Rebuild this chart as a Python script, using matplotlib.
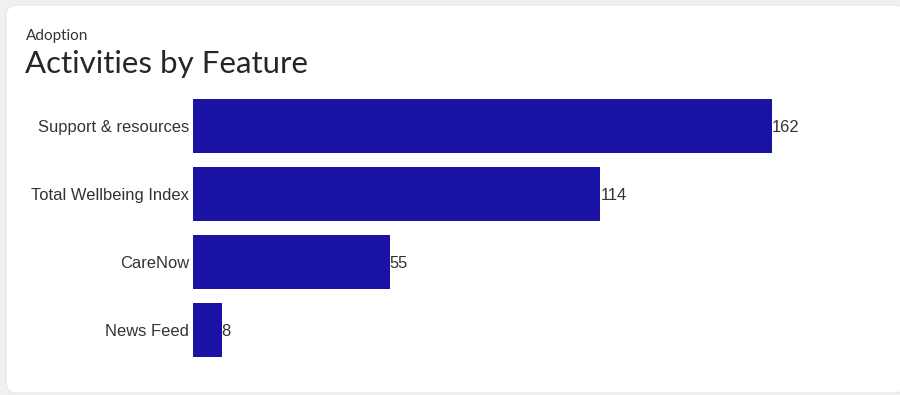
import matplotlib.pyplot as plt
from matplotlib.patches import FancyBboxPatch

features = ["Support & resources", "Total Wellbeing Index", "CareNow", "News Feed"]
activities = [162, 114, 55, 8]

W, H = 900, 395
fig = plt.figure(figsize=(9, 3.95), dpi=100)
fig.patch.set_facecolor("#f0f0f0")

# white card behind everything
card = FancyBboxPatch((6 / W, 2 / H), 900 / W, 388 / H,
                      boxstyle="round,pad=0,rounding_size=0.012",
                      transform=fig.transFigure, facecolor="white",
                      edgecolor="#e6e6e6", linewidth=0.8, mutation_aspect=W / H,
                      zorder=-10)
fig.patches.append(card)

fig.text(26 / W, 1 - 40 / H, "Adoption", fontsize=11, family="Lato", color="#333333")
fig.text(25 / W, 1 - 73 / H, "Activities by Feature", fontsize=22.5, family="Lato",
         color="#262626")

ax = fig.add_axes([193 / W, 1 - 364 / H, 707 / W, 272 / H])
ax.set_facecolor("none")
ypos = list(range(len(features)))
ax.barh(ypos, activities, height=0.8, color="#1a12a2")
ax.set_ylim(len(features) - 0.5, -0.5)
ax.set_xlim(0, 707 / (579 / 162))
ax.set_yticks(ypos)
ax.set_yticklabels(features, family="Liberation Sans", fontsize=11.9, color="#333333")
ax.tick_params(axis="y", length=0, pad=3)
ax.set_xticks([])
for s in ax.spines.values():
    s.set_visible(False)

for y, v in zip(ypos, activities):
    ax.text(v, y, str(v), va="center_baseline", ha="left", family="Liberation Sans",
            fontsize=11.9, color="#333333")

fig.savefig("out.png", dpi=100, facecolor=fig.get_facecolor())
